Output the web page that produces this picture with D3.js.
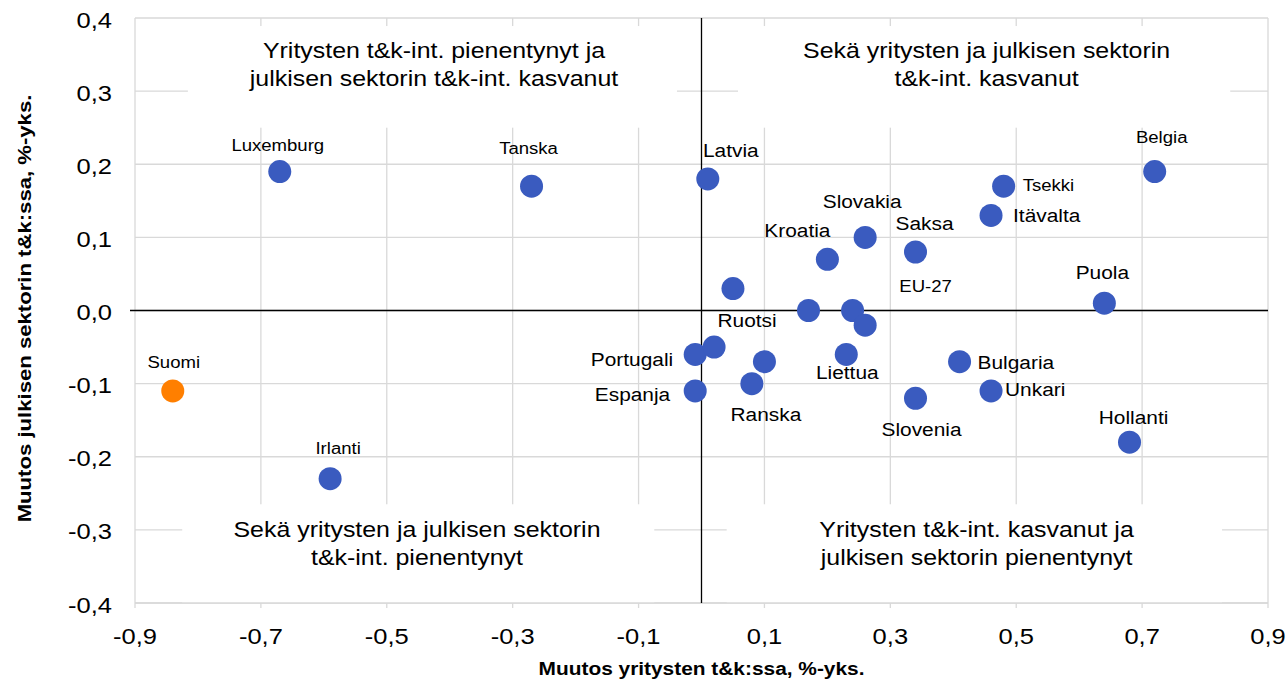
<!DOCTYPE html>
<html>
<head>
<meta charset="utf-8">
<script src="https://cdn.jsdelivr.net/npm/d3@7"></script>
<style>
  body { margin: 0; background: #fff; }
  svg text { font-family: "Liberation Sans", Arial, sans-serif; fill: #000; }
</style>
</head>
<body>
<svg width="1287" height="682"></svg>
<script>
// Countries (empty name = point drawn without a label)
const names = ['Suomi', 'Luxemburg', 'Irlanti', 'Tanska', 'Latvia', 'Belgia', 'Tsekki',
  'Itävalta', 'Slovakia', 'Saksa', 'Kroatia', '', '', 'EU-27', '', 'Puola',
  'Portugali', 'Ruotsi', '', 'Liettua', 'Bulgaria', 'Espanja', 'Ranska', 'Unkari',
  'Slovenia', 'Hollanti']
// Change in business R&D intensity, %-points
const businessChange = [-0.84, -0.67, -0.59, -0.27, 0.01, 0.72, 0.48,
  0.46, 0.26, 0.34, 0.20, 0.05, 0.17, 0.24, 0.26, 0.64,
  -0.01, 0.02, 0.10, 0.23, 0.41, -0.01, 0.08, 0.46,
  0.34, 0.68]
// Change in public sector R&D intensity, %-points
const publicChange = [-0.11, 0.19, -0.23, 0.17, 0.18, 0.19, 0.17,
  0.13, 0.10, 0.08, 0.07, 0.03, 0.0, 0.0, -0.02, 0.01,
  -0.06, -0.05, -0.07, -0.06, -0.07, -0.11, -0.10, -0.11,
  -0.12, -0.18]

const xTicks = [-0.9, -0.7, -0.5, -0.3, -0.1, 0.1, 0.3, 0.5, 0.7, 0.9]
const yTicks = [-0.4, -0.3, -0.2, -0.1, 0.0, 0.1, 0.2, 0.3, 0.4]

const quadrantTexts = [
  ['Yritysten t&k-int. pienentynyt ja', 'julkisen sektorin t&k-int. kasvanut'],
  ['Sekä yritysten ja julkisen sektorin', 't&k-int. kasvanut'],
  ['Sekä yritysten ja julkisen sektorin', 't&k-int. pienentynyt'],
  ['Yritysten t&k-int. kasvanut ja', 'julkisen sektorin pienentynyt'],
]

// Label placement relative to the dot: [dx, dy, anchor, font size]
const labelPlacement = {
  Suomi: [1, -23, 'middle', 16],
  Luxemburg: [-2, -21, 'middle', 16],
  Irlanti: [8, -25, 'middle', 16],
  Tanska: [-3, -32, 'middle', 16],
  Latvia: [23, -22, 'middle', 18],
  Belgia: [7, -29, 'middle', 16],
  Tsekki: [19, 5, 'start', 16],
  Itävalta: [22, 7, 'start', 18],
  Slovakia: [-3, -29, 'middle', 18],
  Saksa: [9, -22, 'middle', 18],
  Kroatia: [-30, -22, 'middle', 18],
  'EU-27': [73, -19, 'middle', 16],
  Puola: [-2, -24, 'middle', 18],
  Portugali: [-22, 12, 'end', 18],
  Ruotsi: [33, -20, 'middle', 18],
  Liettua: [1, 25, 'middle', 18],
  Bulgaria: [18, 7, 'start', 18],
  Espanja: [-25, 10, 'end', 18],
  Ranska: [14, 37, 'middle', 18],
  Unkari: [14, 5, 'start', 18],
  Slovenia: [6, 38, 'middle', 18],
  Hollanti: [4, -18, 'middle', 18],
}

// the original text is drawn a bit wider than plain Arial
const stretch = 1.16

const svg = d3.select('svg')
const plotLeft = 135, plotRight = 1268, plotTop = 18, plotBottom = 603

const x = d3.scaleLinear().domain([-0.9, 0.9]).range([plotLeft, plotRight])
const y = d3.scaleLinear().domain([-0.4, 0.4]).range([plotBottom, plotTop])
const fmt = (v) => d3.format('.1f')(v).replace('.', ',').replace('−', '-')
const at = (px, py, s = stretch) => `translate(${px},${py}) scale(${s},1)`

// Grid
const grid = svg.append('g').attr('stroke', '#d9d9d9').attr('stroke-width', 1.3)
grid.selectAll('.gx').data(xTicks).enter().append('line')
  .attr('x1', (d) => x(d)).attr('x2', (d) => x(d))
  .attr('y1', plotTop).attr('y2', plotBottom + 5)
grid.selectAll('.gy').data(yTicks).enter().append('line')
  .attr('x1', plotLeft).attr('x2', plotRight)
  .attr('y1', (d) => y(d)).attr('y2', (d) => y(d))

// White boxes behind the quadrant texts (they hide the grid)
const boxes = [
  [-0.816, -0.039, 0.389, 0.25],
  [0.058, 0.84, 0.389, 0.25],
  [-0.825, -0.075, -0.265, -0.4],
  [0.04, 0.827, -0.265, -0.4],
]
svg.append('g').selectAll('rect').data(boxes).enter().append('rect')
  .attr('x', (d) => x(d[0])).attr('width', (d) => x(d[1]) - x(d[0]))
  .attr('y', (d) => y(d[2])).attr('height', (d) => y(d[3]) - y(d[2]))
  .attr('fill', '#fff')

// Bottom axis line on top of the boxes
svg.append('line').attr('x1', plotLeft).attr('x2', plotRight)
  .attr('y1', plotBottom).attr('y2', plotBottom)
  .attr('stroke', '#d9d9d9').attr('stroke-width', 1.3)

// Zero lines
svg.append('line').attr('x1', x(0)).attr('x2', x(0)).attr('y1', plotTop).attr('y2', plotBottom)
  .attr('stroke', '#000').attr('stroke-width', 1.3)
svg.append('line').attr('x1', plotLeft - 5).attr('x2', plotRight).attr('y1', y(0)).attr('y2', y(0))
  .attr('stroke', '#000').attr('stroke-width', 1.3)

// Tick labels
svg.append('g').selectAll('text').data(xTicks).enter().append('text')
  .attr('transform', (d) => at(x(d), 644))
  .attr('text-anchor', 'middle').attr('font-size', 22)
  .text(fmt)
svg.append('g').selectAll('text').data(yTicks).enter().append('text')
  .attr('transform', (d) => at(112, y(d) + 9.5))
  .attr('text-anchor', 'end').attr('font-size', 22)
  .text(fmt)

// Axis titles
svg.append('text').attr('transform', at(x(0), 675))
  .attr('text-anchor', 'middle').attr('font-size', 18).attr('font-weight', 'bold')
  .text('Muutos yritysten t&k:ssa, %-yks.')
svg.append('text').attr('transform', `translate(31, ${y(0) - 2}) rotate(-90) scale(1.23,1)`)
  .attr('text-anchor', 'middle').attr('font-size', 18).attr('font-weight', 'bold')
  .text('Muutos julkisen sektorin t&k:ssa, %-yks.')

// Quadrant texts
const quadCenters = [[-0.425, 58], [0.453, 58], [-0.452, 537], [0.437, 537]]
quadrantTexts.forEach((lines, i) => {
  const t = svg.append('text').attr('text-anchor', 'middle').attr('font-size', 21.5)
    .attr('transform', at(x(quadCenters[i][0]), 0))
  lines.forEach((line, j) => {
    t.append('tspan').attr('x', 0)
      .attr('y', quadCenters[i][1] + j * 28).text(line)
  })
})

// Points
const points = names.map((name, i) => ({ name, bx: businessChange[i], py: publicChange[i] }))
svg.append('g').selectAll('circle').data(points).enter().append('circle')
  .attr('cx', (d) => x(d.bx)).attr('cy', (d) => y(d.py)).attr('r', 11.5)
  .attr('fill', (d) => (d.name === 'Suomi' ? '#ff7f00' : '#3a5bbf'))

// Point labels
svg.append('g').selectAll('text').data(points.filter((d) => d.name)).enter().append('text')
  .attr('transform', (d) => at(x(d.bx) + labelPlacement[d.name][0],
    y(d.py) + labelPlacement[d.name][1]))
  .attr('text-anchor', (d) => labelPlacement[d.name][2])
  .attr('font-size', (d) => labelPlacement[d.name][3])
  .text((d) => d.name)
</script>
</body>
</html>
